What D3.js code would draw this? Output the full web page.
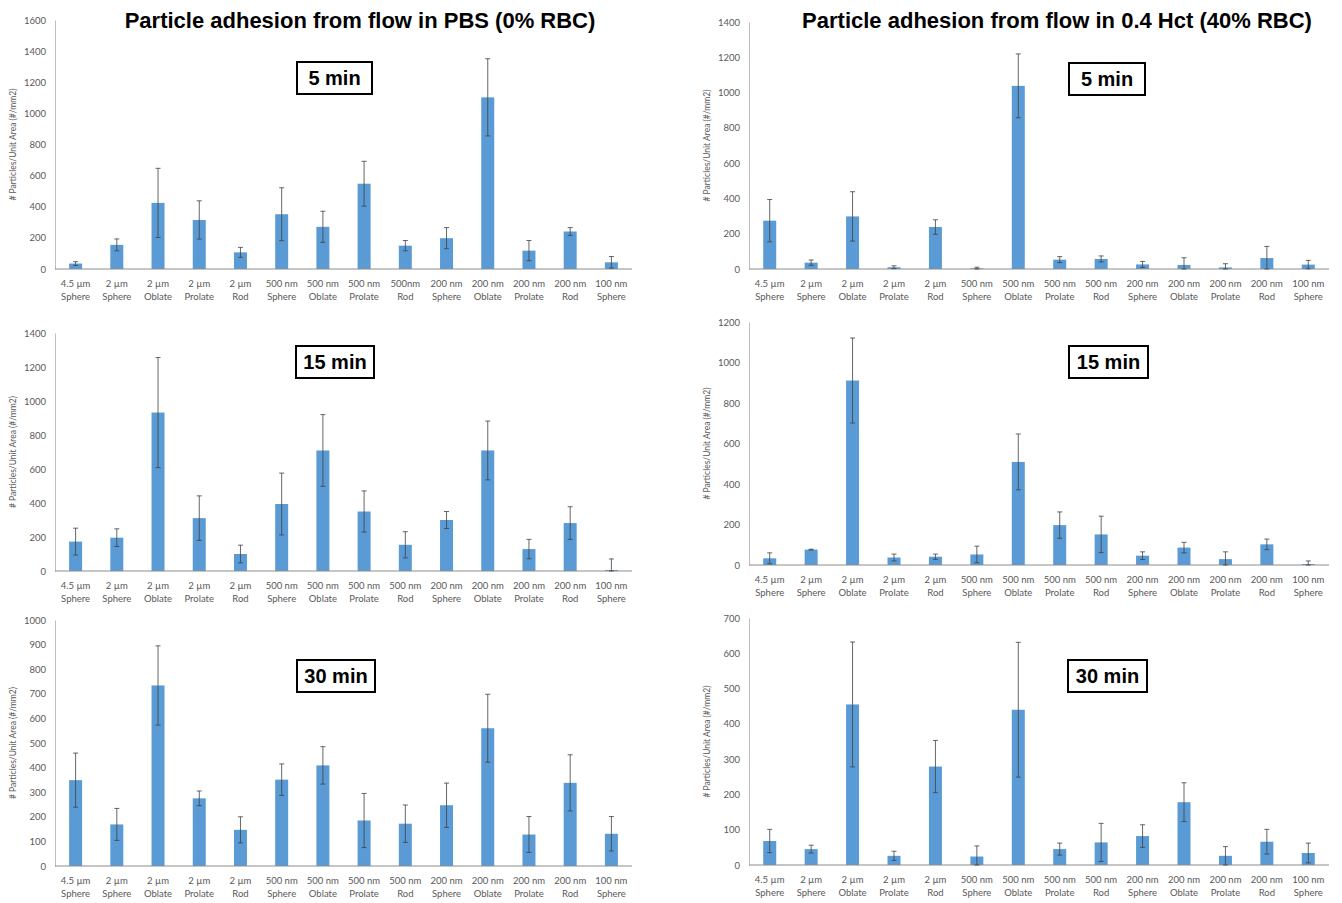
<!DOCTYPE html>
<html>
<head>
<meta charset="utf-8">
<script src="https://cdn.jsdelivr.net/npm/d3@7"></script>
<style>
  body { margin: 0; background: #fff; }
  svg { display: block; }
  .tick text { font-family: Lato, "Open Sans", sans-serif; font-size: 9.5px; fill: #595959; }
  .cat { font-family: Lato, "Open Sans", sans-serif; font-size: 9.5px; fill: #595959; }
  .ytitle { font-family: Lato, "Open Sans", sans-serif; font-size: 8.5px; fill: #595959; }
  .title, .box text { font-family: "Liberation Sans", Arial, sans-serif; font-weight: bold; }
</style>
</head>
<body>
<svg width="1342" height="903"></svg>
<script>
// particle types (two label lines)
var sizes = ["4.5 µm", "2 µm", "2 µm", "2 µm", "2 µm", "500 nm", "500 nm", "500 nm", "500 nm", "200 nm", "200 nm", "200 nm", "200 nm", "100 nm"];
var sizesPbs5 = ["4.5 µm", "2 µm", "2 µm", "2 µm", "2 µm", "500 nm", "500 nm", "500 nm", "500nm", "200 nm", "200 nm", "200 nm", "200 nm", "100 nm"];
var shapes = ["Sphere", "Sphere", "Oblate", "Prolate", "Rod", "Sphere", "Oblate", "Prolate", "Rod", "Sphere", "Oblate", "Prolate", "Rod", "Sphere"];

// PBS (0% RBC)
var pbs5     = [35, 155, 425, 315, 107, 352, 271, 548, 150, 198, 1103, 118, 241, 43];
var pbs5Err  = [12, 38, 222, 123, 32, 170, 100, 144, 33, 68, 248, 65, 25, 37];
var pbs15    = [173, 196, 932, 311, 100, 394, 709, 350, 154, 300, 709, 129, 282, 6];
var pbs15Err = [79, 52, 324, 131, 52, 182, 211, 121, 77, 50, 173, 57, 96, 65];
var pbs30    = [349, 169, 734, 275, 147, 351, 409, 185, 172, 247, 560, 128, 338, 131];
var pbs30Err = [110, 65, 161, 30, 53, 64, 76, 110, 76, 90, 138, 73, 114, 70];

// 0.4 Hct (40% RBC)
var hct5     = [274, 36, 298, 10, 238, 4, 1038, 53, 57, 26, 23, 9, 62, 25];
var hct5Err  = [120, 15, 140, 8, 41, 6, 181, 17, 17, 17, 41, 21, 66, 24];
var hct15    = [33, 76, 911, 37, 41, 52, 509, 197, 151, 46, 86, 29, 102, 5];
var hct15Err = [27, 2, 210, 17, 13, 41, 138, 65, 90, 19, 26, 36, 26, 15];
var hct30    = [68, 45, 455, 26, 279, 24, 440, 45, 64, 82, 178, 26, 66, 34];
var hct30Err = [33, 11, 177, 13, 74, 30, 191, 17, 54, 32, 55, 26, 35, 28];

var titles = ["Particle adhesion from flow in PBS (0% RBC)", "Particle adhesion from flow in 0.4 Hct (40% RBC)"];
var yTitle = "# Particles/Unit Area (#/mm2)";

var panels = [
  {vals: pbs5,  err: pbs5Err,  line1: sizesPbs5, max: 1600, x0: 55,  x1: 632,  y0: 269, y1: 20,  label: "5 min",  box: [297, 62, 75, 32]},
  {vals: pbs15, err: pbs15Err, line1: sizes,     max: 1400, x0: 55,  x1: 632,  y0: 571, y1: 333, label: "15 min", box: [296, 346, 78, 32]},
  {vals: pbs30, err: pbs30Err, line1: sizes,     max: 1000, x0: 55,  x1: 632,  y0: 866, y1: 620, label: "30 min", box: [297, 660, 78, 32]},
  {vals: hct5,  err: hct5Err,  line1: sizes,     max: 1400, x0: 749, x1: 1329, y0: 269, y1: 22,  label: "5 min",  box: [1069, 63, 76, 32]},
  {vals: hct15, err: hct15Err, line1: sizes,     max: 1200, x0: 749, x1: 1329, y0: 565, y1: 322, label: "15 min", box: [1069, 346, 79, 32]},
  {vals: hct30, err: hct30Err, line1: sizes,     max: 700,  x0: 749, x1: 1329, y0: 865, y1: 618, label: "30 min", box: [1068, 660, 79, 32]}
];

var svg = d3.select("svg");

svg.selectAll("text.title")
    .data(titles)
  .enter().append("text")
    .attr("class", "title")
    .attr("x", function(d, i) { return i ? 1057 : 360; })
    .attr("y", 28)
    .attr("text-anchor", "middle")
    .style("font-size", "22px")
    .text(function(d) { return d; });

panels.forEach(function(p) {
  var x = d3.scaleBand().domain(d3.range(sizes.length)).range([p.x0, p.x1]);
  var y = d3.scaleLinear().domain([0, p.max]).range([p.y0, p.y1]);
  var g = svg.append("g");

  // y axis
  var yAxis = g.append("g")
      .attr("transform", "translate(" + p.x0 + ",0)")
      .call(d3.axisLeft(y)
        .ticks(p.max / (p.max > 1000 ? 200 : 100))
        .tickFormat(d3.format("d"))
        .tickSize(0).tickPadding(9));
  yAxis.select(".domain").attr("stroke", "#bfbfbf");

  g.append("text")
      .attr("class", "ytitle")
      .attr("transform", "translate(" + (p.x0 - 39) + "," + ((p.y0 + p.y1) / 2) + ")rotate(-90)")
      .attr("text-anchor", "middle")
      .text(yTitle);

  // bars
  var bw = 13;
  g.selectAll("rect.bar")
      .data(p.vals)
    .enter().append("rect")
      .attr("class", "bar")
      .attr("x", function(d, i) { return x(i) + x.bandwidth() / 2 - bw / 2; })
      .attr("y", function(d) { return y(d); })
      .attr("width", bw)
      .attr("height", function(d) { return y(0) - y(d); })
      .attr("fill", "#5b9bd5");

  // x axis line
  g.append("line")
      .attr("x1", p.x0).attr("x2", p.x1)
      .attr("y1", y(0)).attr("y2", y(0))
      .attr("stroke", "#8c8c8c");

  // error bars
  var eb = g.selectAll("g.err")
      .data(p.vals)
    .enter().append("g")
      .attr("class", "err")
      .attr("stroke", "#404040")
      .attr("stroke-width", 0.8);
  eb.append("line")
      .attr("x1", function(d, i) { return x(i) + x.bandwidth() / 2; })
      .attr("x2", function(d, i) { return x(i) + x.bandwidth() / 2; })
      .attr("y1", function(d, i) { return y(Math.max(0, d - p.err[i])); })
      .attr("y2", function(d, i) { return y(d + p.err[i]); });
  eb.append("line")
      .attr("x1", function(d, i) { return x(i) + x.bandwidth() / 2 - 2.5; })
      .attr("x2", function(d, i) { return x(i) + x.bandwidth() / 2 + 2.5; })
      .attr("y1", function(d, i) { return y(d + p.err[i]); })
      .attr("y2", function(d, i) { return y(d + p.err[i]); });
  eb.append("line")
      .attr("x1", function(d, i) { return x(i) + x.bandwidth() / 2 - 2.5; })
      .attr("x2", function(d, i) { return x(i) + x.bandwidth() / 2 + 2.5; })
      .attr("y1", function(d, i) { return y(Math.max(0, d - p.err[i])); })
      .attr("y2", function(d, i) { return y(Math.max(0, d - p.err[i])); });

  // category labels
  var lab = g.selectAll("text.cat")
      .data(shapes)
    .enter().append("text")
      .attr("class", "cat")
      .attr("text-anchor", "middle")
      .attr("x", function(d, i) { return x(i) + x.bandwidth() / 2; })
      .attr("y", y(0) + 18);
  lab.append("tspan").text(function(d, i) { return p.line1[i]; });
  lab.append("tspan")
      .attr("x", function(d, i) { return x(i) + x.bandwidth() / 2; })
      .attr("dy", 13)
      .text(function(d) { return d; });

  // time label box
  var box = g.append("g").attr("class", "box");
  box.append("rect")
      .attr("x", p.box[0]).attr("y", p.box[1])
      .attr("width", p.box[2]).attr("height", p.box[3])
      .attr("fill", "#fff").attr("stroke", "#000").attr("stroke-width", 2);
  box.append("text")
      .attr("x", p.box[0] + p.box[2] / 2)
      .attr("y", p.box[1] + p.box[3] / 2 + 7)
      .attr("text-anchor", "middle")
      .style("font-size", "20px")
      .text(p.label);
});
</script>
</body>
</html>
